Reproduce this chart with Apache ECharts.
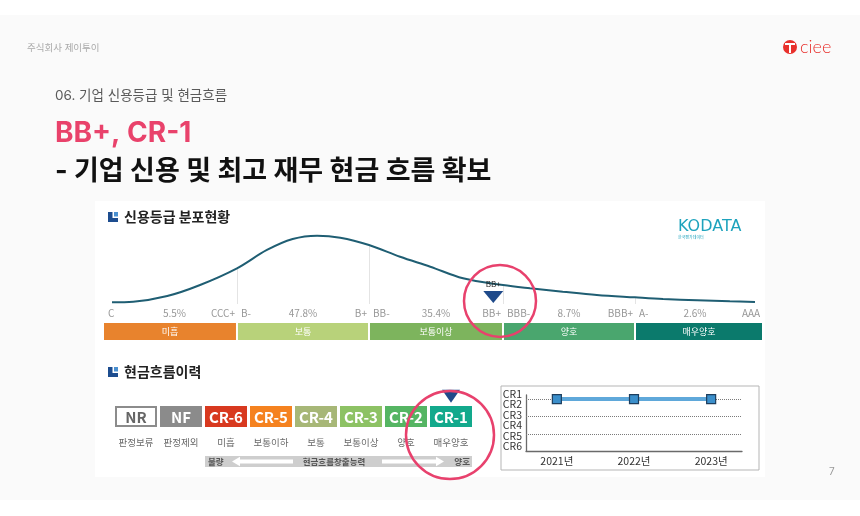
<!DOCTYPE html>
<html><head><meta charset="utf-8">
<script src="https://cdn.jsdelivr.net/npm/echarts@6/dist/echarts.min.js"></script>
<style>html,body{margin:0;padding:0;background:#fff;}#c{width:860px;height:516px;}</style>
</head><body><div id="c"></div>
<script>
// ---------- data ----------
// credit rating distribution curve (x: position along the rating scale C..AAA = 0..100, y: relative density)
const curveX = [0, 3.3, 8.6, 13.7, 19.44, 24.1, 28.1, 31.9, 35.5, 39.97, 44.8, 49.5, 54.6, 60.81, 65, 70.1, 75.4, 81.34, 85.7, 91, 96.1, 100];
const curveY = [2.3, 3.1, 10.8, 25.7, 48.2, 73, 87.8, 92.3, 89.6, 79.7, 63.9, 50.4, 34.7, 25.6, 21.2, 16.6, 12.2, 9.0, 6.8, 5.0, 3.6, 2.7];
const segBounds = [0, 19.44, 39.97, 60.81, 81.34, 100];
const segStartGrade = ['C', 'B-', 'BB-', 'BBB-', 'A-'];
const segEndGrade = ['CCC+', 'B+', 'BB+', 'BBB+', 'AAA'];
const segShare = ['5.5%', '47.8%', '35.4%', '8.7%', '2.6%'];
const segName = ['미흡', '보통', '보통이상', '양호', '매우양호'];
const currentGrade = 'BB+';
const currentGradePos = 59.3;
const currentGradeLevel = 9.5;

// cash-flow grade scale
const cfCodes = ['NR', 'NF', 'CR-6', 'CR-5', 'CR-4', 'CR-3', 'CR-2', 'CR-1'];
const cfNames = ['판정보류', '판정제외', '미흡', '보통이하', '보통', '보통이상', '양호', '매우양호'];
const currentCR = 'CR-1';

// cash-flow history
const years = ['2021년', '2022년', '2023년'];
const crLevels = ['CR1', 'CR2', 'CR3', 'CR4', 'CR5', 'CR6'];
const crHistory = [1, 1, 1];
const crGridLevels = [1, 2, 3];

// ---------- styles ----------
const FONT = "'Noto Sans CJK KR','Noto Sans',sans-serif";
const TFONT = "Inter,'Noto Sans CJK KR',sans-serif";
const segColors = ['#e8832d', '#b8d27a', '#7db45d', '#4aa66e', '#0b7a6c'];
const cfColors = ['#ffffff', '#8b8b8b', '#d8391f', '#f58220', '#a7b777', '#8dc264', '#55b563', '#12a98c'];
const markBlue = '#1f4a8a';
const pink = '#e8416d';

const chart = echarts.init(document.getElementById('c'), null, {renderer: 'canvas'});

function txt(x, y, text, font, fill, align, extra) {
  return Object.assign({type: 'text', silent: true, style: {x, y, text, font, fill, align: align || 'left', verticalAlign: 'middle', textAlign: align || 'left', textVerticalAlign: 'middle'}}, extra || {});
}
function icon(x, y) {
  return [
    {type: 'rect', shape: {x, y, width: 10, height: 10}, style: {fill: '#1d4d8f'}},
    {type: 'rect', shape: {x: x + 4.5, y: y, width: 5.5, height: 6}, style: {fill: '#ffffff'}},
    {type: 'rect', shape: {x: x + 6, y: y, width: 4, height: 4.5}, style: {fill: '#4a90d0'}}
  ];
}

// grade label points
const gradeLabels = [];
for (let i = 0; i < segName.length; i++) {
  gradeLabels.push({value: [segBounds[i], 1.59], label: {formatter: segStartGrade[i], align: 'left', offset: [i === 0 ? -4 : 4, 0]}});
  gradeLabels.push({value: [segBounds[i + 1], 1.59], label: {formatter: segEndGrade[i], align: 'right', offset: [i === segName.length - 1 ? 5 : -2, 0]}});
  gradeLabels.push({value: [(segBounds[i] + segBounds[i + 1]) / 2, 1.59], label: {formatter: segShare[i], align: 'center'}});
}

const dropLines = [];
for (let i = 1; i < segBounds.length - 1; i++) {
  const k = curveX.indexOf(segBounds[i]);
  dropLines.push([{coord: [segBounds[i], 0]}, {coord: [segBounds[i], curveY[k]]}]);
}

const option = {
  backgroundColor: '#ffffff',
  animation: false,
  textStyle: {fontFamily: FONT},
  grid: [
    {left: 104, top: 230, width: 658, height: 74},
    {left: 104, top: 323, width: 658, height: 17},
    {left: 113.5, top: 406, width: 360, height: 21},
    {left: 526, top: 395, width: 216, height: 56},
    {left: 526, top: 388.8, width: 216, height: 62.4}
  ],
  xAxis: [
    {gridIndex: 0, type: 'value', min: -1.24, max: 101.09, show: false},
    {gridIndex: 1, type: 'value', min: -1.24, max: 101.09, show: false},
    {gridIndex: 2, type: 'category', data: cfCodes, show: false},
    {gridIndex: 3, type: 'value', min: -0.4, max: 2.4,
      axisLine: {show: true, onZero: false, lineStyle: {color: '#6a6a6a', width: 1.3}},
      axisTick: {show: false}, splitLine: {show: false},
      axisLabel: {customValues: [0, 1, 2], formatter: v => years[Math.round(v)] || '', color: '#333', fontSize: 10.5, margin: 5, fontFamily: FONT}},
    {gridIndex: 4, type: 'value', show: false}
  ],
  yAxis: [
    {gridIndex: 0, type: 'value', min: 0, max: 100, show: false},
    {gridIndex: 1, type: 'value', min: 0, max: 1, show: false},
    {gridIndex: 2, type: 'value', min: 0, max: 1, show: false},
    {gridIndex: 3, type: 'value', min: 0.77, max: 3.94, inverse: true,
      axisLine: {show: true, onZero: false, lineStyle: {color: '#6a6a6a', width: 1.3}},
      axisTick: {show: false}, axisLabel: {show: false}, splitLine: {show: false}},
    {gridIndex: 4, type: 'category', data: crLevels, inverse: true,
      axisLine: {show: false}, axisTick: {show: false},
      axisLabel: {interval: 0, color: '#333', fontSize: 10.5, margin: 4, fontFamily: FONT}}
  ],
  series: [
    {
      type: 'line', xAxisIndex: 0, yAxisIndex: 0, smooth: 0.35, symbol: 'none', z: 3,
      data: curveX.map((x, i) => [x, curveY[i]]),
      lineStyle: {color: '#1f5e73', width: 2},
      markLine: {silent: true, symbol: 'none', z: 1, label: {show: false},
        lineStyle: {color: '#e4e4e4', width: 1, type: 'solid'}, data: dropLines}
    },
    {
      type: 'scatter', xAxisIndex: 0, yAxisIndex: 0, z: 5,
      data: [[currentGradePos, currentGradeLevel]],
      symbol: 'triangle', symbolRotate: 180, symbolSize: [20, 12],
      itemStyle: {color: markBlue, opacity: 1},
      label: {show: true, formatter: currentGrade, position: 'top', distance: 3, fontSize: 8, color: '#222', fontFamily: FONT}
    },
    {
      type: 'custom', xAxisIndex: 1, yAxisIndex: 1,
      data: segName.map((n, i) => [segBounds[i], segBounds[i + 1]]),
      encode: {x: [0, 1]},
      renderItem: function (params, api) {
        const i = params.dataIndex, cs = params.coordSys;
        const last = segName.length - 1;
        const x0 = i === 0 ? cs.x : api.coord([api.value(0), 0])[0] + 1;
        const x1 = i === last ? cs.x + cs.width : api.coord([api.value(1), 0])[0] - 1;
        return {type: 'group', children: [
          {type: 'rect', shape: {x: x0, y: cs.y, width: x1 - x0, height: cs.height}, style: {fill: segColors[i]}},
          {type: 'text', style: {x: (x0 + x1) / 2, y: cs.y + cs.height / 2, text: segName[i], fill: '#ffffff', font: '9px ' + FONT, align: 'center', verticalAlign: 'middle'}}
        ]};
      }
    },
    {
      type: 'scatter', xAxisIndex: 1, yAxisIndex: 1, clip: false, symbolSize: 1, silent: true,
      itemStyle: {color: 'transparent'},
      data: gradeLabels,
      label: {show: true, position: 'inside', color: '#7d7d7d', fontSize: 10, fontFamily: FONT}
    },
    {
      type: 'custom', xAxisIndex: 2, yAxisIndex: 2,
      data: cfCodes.map((c, i) => [i]),
      encode: {x: 0},
      renderItem: function (params, api) {
        const i = params.dataIndex, cs = params.coordSys;
        const p = api.coord([api.value(0), 0]);
        const w = 42, x = p[0] - w / 2, y = cs.y, h = cs.height;
        const nr = i === 0;
        return {type: 'group', children: [
          {type: 'rect', shape: nr ? {x: x + 1, y: y + 1, width: w - 2, height: h - 2} : {x, y, width: w, height: h},
            style: nr ? {fill: '#ffffff', stroke: '#8c8c8c', lineWidth: 2} : {fill: cfColors[i]}},
          {type: 'text', style: {x: p[0], y: y + h / 2 + 0.5, text: cfCodes[i], fill: nr ? '#666666' : '#ffffff', font: 'bold 15px ' + FONT, align: 'center', verticalAlign: 'middle'}},
          {type: 'text', style: {x: p[0], y: y + h + 15.5, text: cfNames[i], fill: '#6a6a6a', font: '9.5px ' + FONT, align: 'center', verticalAlign: 'middle'}}
        ]};
      }
    },
    {
      type: 'scatter', xAxisIndex: 2, yAxisIndex: 2, clip: false, z: 5,
      data: [[cfCodes.indexOf(currentCR), 1.47]],
      symbol: 'triangle', symbolRotate: 180, symbolSize: [18, 13],
      itemStyle: {color: markBlue, opacity: 1}
    },
    {
      type: 'line', xAxisIndex: 3, yAxisIndex: 3, z: 4,
      data: years.map((y, i) => [i, crHistory[i]]),
      symbol: 'rect', symbolSize: 9,
      itemStyle: {color: '#3b8fcb', borderColor: '#1d3e5e', borderWidth: 1.2},
      lineStyle: {color: '#5fa8da', width: 4},
      markLine: {silent: true, symbol: 'none', z: 1, label: {show: false},
        lineStyle: {color: '#7a7a7a', width: 1, type: 'dotted'},
        data: crGridLevels.map(v => ({yAxis: v}))}
    }
  ],
  graphic: {elements: [
    {type: 'rect', z: -10, silent: true, shape: {x: 0, y: 15, width: 860, height: 485}, style: {fill: '#fafafa'}},
    {type: 'rect', z: -9, silent: true, shape: {x: 95, y: 201, width: 670, height: 276}, style: {fill: '#ffffff'}},
    {type: 'rect', z: -8, silent: true, shape: {x: 501, y: 386, width: 258, height: 84}, style: {fill: 'none', stroke: '#b5b5b5', lineWidth: 1}},
    txt(27, 48, '주식회사 제이투이', '9.5px ' + TFONT, '#a8a8a8'),
    txt(55, 96, '06. 기업 신용등급 및 현금흐름', '13.5px ' + TFONT, '#5a5a5a'),
    txt(55, 134, 'BB+, CR-1', 'bold 28px ' + TFONT, '#e9426b'),
    txt(55, 172, '- 기업 신용 및 최고 재무 현금 흐름 확보', 'bold 27px ' + TFONT, '#111111'),
    {type: 'circle', silent: true, shape: {cx: 790, cy: 47, r: 7}, style: {fill: '#e8302c'}},
    {type: 'rect', silent: true, shape: {x: 785, y: 43, width: 10, height: 2}, style: {fill: '#ffffff'}},
    {type: 'rect', silent: true, shape: {x: 789, y: 43, width: 2, height: 10}, style: {fill: '#ffffff'}},
    txt(800, 47, 'ciee', '300 18px Lato', '#e8302c'),
    ...icon(108, 212),
    txt(124, 217, '신용등급 분포현황', 'bold 14px ' + FONT, '#222222'),
    txt(678, 227, 'KODATA', '16px "DejaVu Sans"', '#1ea3bd'),
    txt(678, 237.5, '한국평가데이터', '4px ' + FONT, '#1ea3bd'),
    ...icon(108, 367),
    txt(124, 372, '현금흐름이력', 'bold 14px ' + FONT, '#222222'),
    {type: 'rect', silent: true, shape: {x: 205, y: 456, width: 267, height: 11}, style: {fill: '#cecece'}},
    {type: 'polygon', silent: true, shape: {points: [[232, 461.5], [240, 456.8], [240, 459.6], [293, 459.6], [293, 463.4], [240, 463.4], [240, 466.2]]}, style: {fill: '#ffffff'}},
    {type: 'polygon', silent: true, shape: {points: [[444, 461.5], [436, 456.8], [436, 459.6], [382, 459.6], [382, 463.4], [436, 463.4], [436, 466.2]]}, style: {fill: '#ffffff'}},
    txt(208, 461.5, '불량', 'bold 8.5px ' + FONT, '#555555'),
    txt(334, 461.5, '현금흐름창출능력', 'bold 8.5px ' + FONT, '#555555', 'center'),
    txt(470, 461.5, '양호', 'bold 8.5px ' + FONT, '#555555', 'right'),
    txt(829, 472, '7', '10px ' + TFONT, '#999999'),
    {type: 'circle', silent: true, z: 100, shape: {cx: 500, cy: 301, r: 36}, style: {fill: 'none', stroke: pink, lineWidth: 2.5}},
    {type: 'circle', silent: true, z: 100, shape: {cx: 450, cy: 435, r: 44}, style: {fill: 'none', stroke: pink, lineWidth: 2.5}}
  ]}
};
chart.setOption(option);
</script></body></html>
